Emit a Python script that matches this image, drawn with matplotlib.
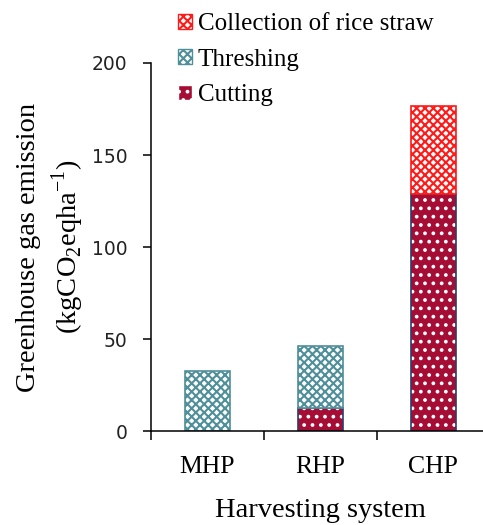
import matplotlib
matplotlib.use("Agg")
import matplotlib.pyplot as plt
from matplotlib.patches import Patch

# data
systems = ["MHP", "RHP", "CHP"]
cutting = [0, 12.5, 129]
threshing = [32.5, 33.5, 0]
collection = [0, 0, 47.5]
y_ticks = [0, 50, 100, 150, 200]

teal = "#4f8f9a"
crimson = "#a50d35"
navy = "#2e3d6b"
red = "#ff1a1a"

plt.rcParams["font.family"] = ["Liberation Serif", "DejaVu Serif"]
plt.rcParams["hatch.linewidth"] = 1.5

fig = plt.figure(figsize=(4.83, 5.25), dpi=100)
ax = fig.add_axes([0.3126, 0.179, 0.6874, 0.701])

w = 0.4
for i in range(len(systems)):
    base = 0
    if cutting[i] > 0:
        # crimson with white dots, navy outline
        ax.bar(i, cutting[i], w, color=crimson, edgecolor="white", hatch="..", linewidth=0)
        ax.bar(i, cutting[i], w, fill=False, edgecolor=navy, linewidth=1.2)
        base += cutting[i]
    if threshing[i] > 0:
        ax.bar(i, threshing[i], w, bottom=base, color="white", edgecolor=teal,
               hatch="xxxx", linewidth=1.2)
        base += threshing[i]
    if collection[i] > 0:
        ax.bar(i, collection[i], w, bottom=base, color="white", edgecolor=red,
               hatch="////\\\\\\\\", linewidth=1.2)

ax.set_xlim(-0.5, 2.44)
ax.set_ylim(0, 200)
ax.set_yticks(y_ticks)
ax.set_xticks(range(len(systems)))
ax.set_xticklabels(systems)
ax.set_xticks([-0.5, 0.5, 1.5], minor=True)
ax.tick_params(axis="x", which="major", length=0, pad=18, labelsize=18.5)
ax.tick_params(axis="x", which="minor", direction="out", length=6.5, width=1.1)
ax.tick_params(axis="y", direction="out", length=6, width=1.1, labelsize=13.5, pad=11)
for lab in ax.get_yticklabels():
    lab.set_fontfamily("DejaVu Sans")
    lab.set_color("#222222")
for s in ["top", "right"]:
    ax.spines[s].set_visible(False)
for s in ["left", "bottom"]:
    ax.spines[s].set_linewidth(1.1)

ax.set_ylabel("Greenhouse gas emission\n(kgCO$_\\mathregular{2}$eqha$^\\mathregular{-1}$)",
              fontsize=20.5, labelpad=4, linespacing=1.3)
fig.text(320 / 483, 1 - 517 / 525, "Harvesting system", fontsize=20.5,
         ha="center", va="baseline")

handles = [
    Patch(facecolor="white", edgecolor=red, hatch="////\\\\\\\\", label="Collection of rice straw"),
    Patch(facecolor="white", edgecolor=teal, hatch="xxxx", label="Threshing"),
    Patch(facecolor=crimson, edgecolor="white", hatch="..", label="Cutting"),
]
fig.legend(handles=handles, loc="upper left", bbox_to_anchor=(178 / 483, 1 - 13 / 525),
           frameon=False, fontsize=18, handlelength=0.55, handleheight=0.55,
           handletextpad=0.25, labelspacing=0.55, borderpad=0, borderaxespad=0)

fig.savefig("out.png", dpi=100)
